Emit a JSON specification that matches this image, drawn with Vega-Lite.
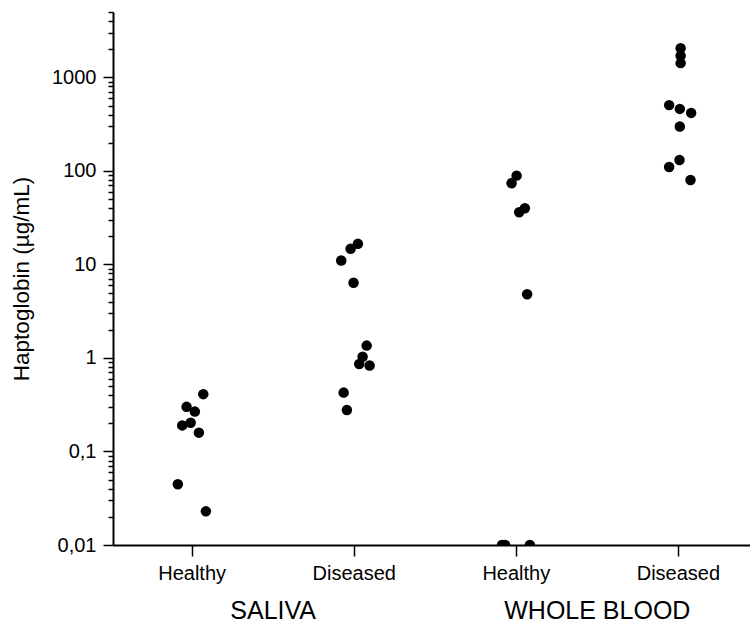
{
  "$schema": "https://vega.github.io/schema/vega-lite/v6.json",
  "width": 637,
  "height": 533,
  "autosize": {"type": "none"},
  "padding": {"left": 113, "top": 12, "right": 0, "bottom": 78},
  "background": "white",
  "config": {
    "font": "Liberation Sans",
    "view": {"stroke": null},
    "axis": {"domainColor": "black", "tickColor": "black", "labelColor": "black", "titleColor": "black", "grid": false, "labelLimit": 400}
  },
  "resolve": {"axis": {"x": "independent"}},
  "layer": [
    {
      "data": {
        "values": [
          {"x": 1.072, "hp": 0.41, "fluid": "Saliva", "status": "Healthy"},
          {"x": 0.969, "hp": 0.30, "fluid": "Saliva", "status": "Healthy"},
          {"x": 1.020, "hp": 0.267, "fluid": "Saliva", "status": "Healthy"},
          {"x": 0.942, "hp": 0.19, "fluid": "Saliva", "status": "Healthy"},
          {"x": 0.994, "hp": 0.203, "fluid": "Saliva", "status": "Healthy"},
          {"x": 1.045, "hp": 0.159, "fluid": "Saliva", "status": "Healthy"},
          {"x": 0.915, "hp": 0.0446, "fluid": "Saliva", "status": "Healthy"},
          {"x": 1.088, "hp": 0.0229, "fluid": "Saliva", "status": "Healthy"},
          {"x": 2.026, "hp": 16.6, "fluid": "Saliva", "status": "Diseased"},
          {"x": 1.981, "hp": 14.7, "fluid": "Saliva", "status": "Diseased"},
          {"x": 1.923, "hp": 11.0, "fluid": "Saliva", "status": "Diseased"},
          {"x": 1.999, "hp": 6.38, "fluid": "Saliva", "status": "Diseased"},
          {"x": 2.080, "hp": 1.355, "fluid": "Saliva", "status": "Diseased"},
          {"x": 2.055, "hp": 1.03, "fluid": "Saliva", "status": "Diseased"},
          {"x": 2.034, "hp": 0.863, "fluid": "Saliva", "status": "Diseased"},
          {"x": 2.098, "hp": 0.83, "fluid": "Saliva", "status": "Diseased"},
          {"x": 1.938, "hp": 0.426, "fluid": "Saliva", "status": "Diseased"},
          {"x": 1.958, "hp": 0.278, "fluid": "Saliva", "status": "Diseased"},
          {"x": 3.005, "hp": 89, "fluid": "Whole blood", "status": "Healthy"},
          {"x": 2.974, "hp": 73.8, "fluid": "Whole blood", "status": "Healthy"},
          {"x": 3.056, "hp": 39.9, "fluid": "Whole blood", "status": "Healthy"},
          {"x": 3.021, "hp": 36.1, "fluid": "Whole blood", "status": "Healthy"},
          {"x": 3.070, "hp": 4.8, "fluid": "Whole blood", "status": "Healthy"},
          {"x": 2.915, "hp": 0.01, "fluid": "Whole blood", "status": "Healthy"},
          {"x": 2.934, "hp": 0.01, "fluid": "Whole blood", "status": "Healthy"},
          {"x": 3.087, "hp": 0.01, "fluid": "Whole blood", "status": "Healthy"},
          {"x": 4.017, "hp": 2050, "fluid": "Whole blood", "status": "Diseased"},
          {"x": 4.017, "hp": 1700, "fluid": "Whole blood", "status": "Diseased"},
          {"x": 4.017, "hp": 1420, "fluid": "Whole blood", "status": "Diseased"},
          {"x": 3.946, "hp": 505, "fluid": "Whole blood", "status": "Diseased"},
          {"x": 4.012, "hp": 460, "fluid": "Whole blood", "status": "Diseased"},
          {"x": 4.082, "hp": 417, "fluid": "Whole blood", "status": "Diseased"},
          {"x": 4.012, "hp": 298, "fluid": "Whole blood", "status": "Diseased"},
          {"x": 4.010, "hp": 131, "fluid": "Whole blood", "status": "Diseased"},
          {"x": 3.946, "hp": 110, "fluid": "Whole blood", "status": "Diseased"},
          {"x": 4.078, "hp": 80, "fluid": "Whole blood", "status": "Diseased"}
        ]
      },
      "mark": {"type": "point", "filled": true, "color": "black", "opacity": 1, "size": 110, "strokeWidth": 0, "clip": true},
      "encoding": {
        "x": {
          "field": "x",
          "type": "quantitative",
          "scale": {"domain": [0.515, 4.445], "nice": false, "zero": false},
          "axis": {
            "orient": "bottom",
            "title": null,
            "values": [1, 2, 3, 4],
            "labelExpr": "datum.value % 2 == 1 ? 'Healthy' : 'Diseased'",
            "labelFontSize": 20,
            "labelPadding": 7,
            "tickSize": 11,
            "tickWidth": 1.5,
            "domainWidth": 2,
            "labelFlush": false
          }
        },
        "y": {
          "field": "hp",
          "type": "quantitative",
          "scale": {"type": "log", "domain": [0.01, 5000], "nice": false},
          "axis": {
            "title": "Haptoglobin (µg/mL)",
            "titleFontSize": 22.5,
            "titleFontWeight": "normal",
            "titlePadding": 18,
            "values": [0.01, 0.02, 0.03, 0.04, 0.05, 0.06, 0.07, 0.08, 0.09,
                       0.1, 0.2, 0.3, 0.4, 0.5, 0.6, 0.7, 0.8, 0.9,
                       1, 2, 3, 4, 5, 6, 7, 8, 9,
                       10, 20, 30, 40, 50, 60, 70, 80, 90,
                       100, 200, 300, 400, 500, 600, 700, 800, 900,
                       1000, 2000, 3000, 4000, 5000],
            "labelExpr": "datum.value == 0.01 ? '0,01' : datum.value == 0.1 ? '0,1' : indexof([1, 10, 100, 1000], datum.value) >= 0 ? format(datum.value, 'd') : ''",
            "labelOverlap": false,
            "labelFontSize": 20,
            "labelPadding": 7,
            "tickSize": {"condition": {"test": "indexof([0.01, 0.1, 1, 10, 100, 1000], datum.value) >= 0", "value": 10}, "value": 5},
            "tickWidth": 1.5,
            "domainWidth": 2
          }
        }
      }
    },
    {
      "data": {
        "values": [
          {"pos": 1.5, "group": "SALIVA"},
          {"pos": 3.5, "group": "WHOLE BLOOD"}
        ]
      },
      "mark": {"type": "point", "opacity": 0},
      "encoding": {
        "x": {
          "field": "pos",
          "type": "quantitative",
          "axis": {
            "orient": "bottom",
            "title": null,
            "values": [1.5, 3.5],
            "labelExpr": "datum.value == 1.5 ? 'SALIVA' : 'WHOLE BLOOD'",
            "labelFontSize": 25,
            "labelPadding": 53,
            "labelLimit": 400,
            "ticks": false,
            "domain": false,
            "labelFlush": false
          }
        }
      }
    }
  ]
}
